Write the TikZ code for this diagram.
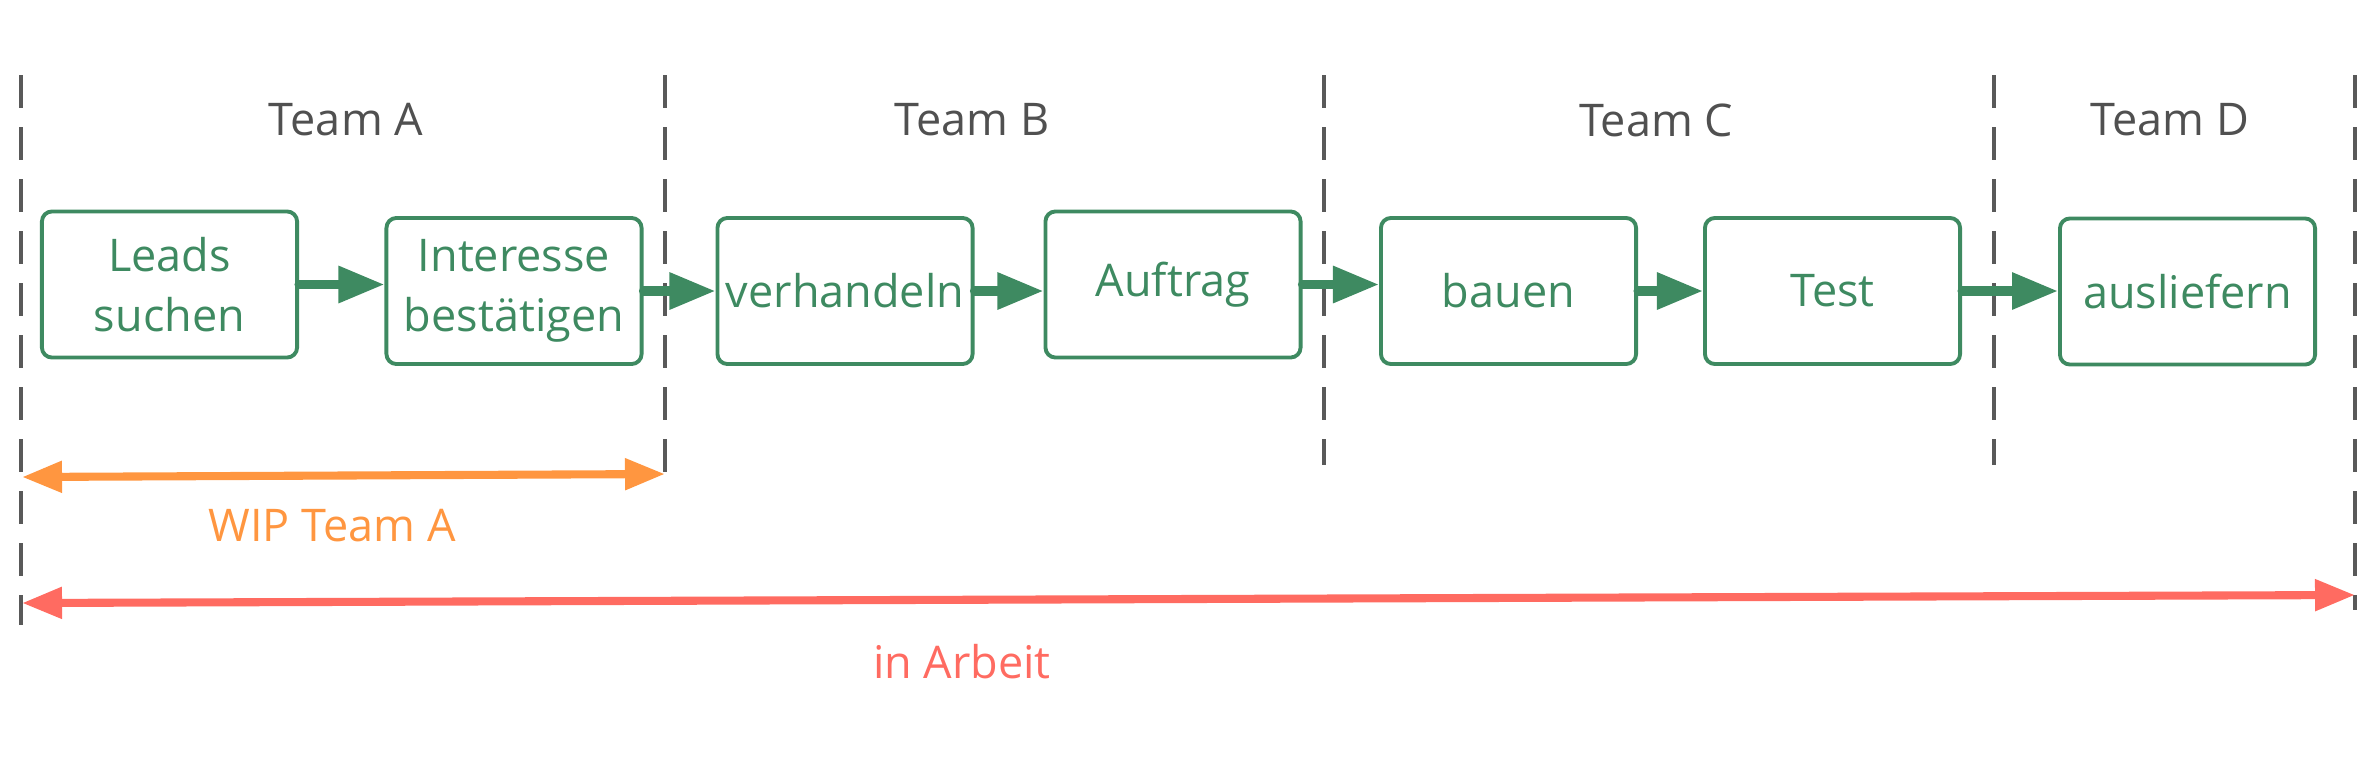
\documentclass[tikz,border=0pt]{standalone}
\usepackage{fontspec}
\setmainfont{Open Sans}
\usetikzlibrary{arrows.meta}
\definecolor{teamgrey}{HTML}{505050}
\definecolor{stepgreen}{HTML}{3E8A61}
\definecolor{wiporange}{HTML}{FF9640}
\definecolor{arbeitred}{HTML}{FF6B61}
\tikzset{
	divider/.style={line width=1pt, color=teamgrey!95, dash pattern=on 0.33cm off 0.19cm},
	teamlabel/.style={text=teamgrey, font=\fontsize{12.8}{15}\selectfont},
	stepbox/.style={draw=stepgreen, line width=1.1pt, rounded corners=0.1cm, minimum width=2.55cm, minimum height=1.46cm, inner sep=0pt, text=stepgreen, align=center, font=\fontsize{12.8}{17}\selectfont},
	flow/.style={color=stepgreen, line width=2.6pt, line cap=round, -{Triangle[length=0.46cm, width=0.35cm]}},
	span/.style={line width=2.3pt, {Triangle[length=0.4cm, width=0.3cm]}-{Triangle[length=0.4cm, width=0.3cm]}},
}

\begin{document}
\begin{tikzpicture}[x=0.01cm, y=-0.01cm]
			%%%%% START %%%%%
			\useasboundingbox (0, 0) rectangle (2380, 760);
			
			\draw[divider] (21, 75) -- (21, 625);
			\draw[divider] (665, 75) -- (665, 480);
			\draw[divider] (1324, 75) -- (1324, 465);
			\draw[divider] (1994, 75) -- (1994, 465);
			\draw[divider] (2355, 75) -- (2355, 610);
			
			\node[teamlabel] (teamA) at (346, 120) {Team A};
			\node[teamlabel] (teamB) at (972, 120) {Team B};
			\node[teamlabel] (teamC) at (1656, 120) {Team C};
			\node[teamlabel] (teamD) at (2170, 120) {Team D};
			
			\node[stepbox] (leads) at (169.5, 284.5) {Leads\\suchen};
			\node[stepbox] (interesse) at (514, 291) {Interesse\\bestätigen};
			\node[stepbox] (verhandeln) at (845, 291) {verhandeln};
			\node[stepbox] (auftrag) at (1173, 284.5) {Auftrag};
			\node[stepbox] (bauen) at (1508.5, 291) {bauen};
			\node[stepbox] (test) at (1832.5, 291) {Test};
			\node[stepbox] (ausliefern) at (2187.5, 291.5) {ausliefern};
			
			\draw[flow] (leads.east) -- (leads.east -| interesse.west);
			\draw[flow] (interesse.east) -- (interesse.east -| verhandeln.west);
			\draw[flow] (verhandeln.east) -- (verhandeln.east -| auftrag.west);
			\draw[flow] (auftrag.east) -- (auftrag.east -| bauen.west);
			\draw[flow] (bauen.east) -- (bauen.east -| test.west);
			\draw[flow] (test.east) -- (test.east -| ausliefern.west);
			
			\coordinate (wipL) at (22, 477);
			\coordinate (wipR) at (665, 474);
			\draw[span, color=wiporange] (wipL) -- (wipR);
			\node[text=wiporange, font=\fontsize{12.8}{15}\selectfont] (wip) at (332, 526) {WIP Team A};
			
			\coordinate (arbL) at (22, 603);
			\coordinate (arbR) at (2355, 595);
			\draw[span, color=arbeitred] (arbL) -- (arbR);
			\node[text=arbeitred, font=\fontsize{12.8}{15}\selectfont] (arbeit) at (962, 662) {in Arbeit};
			
			%%%%% END %%%%%
\end{tikzpicture}
\end{document}
